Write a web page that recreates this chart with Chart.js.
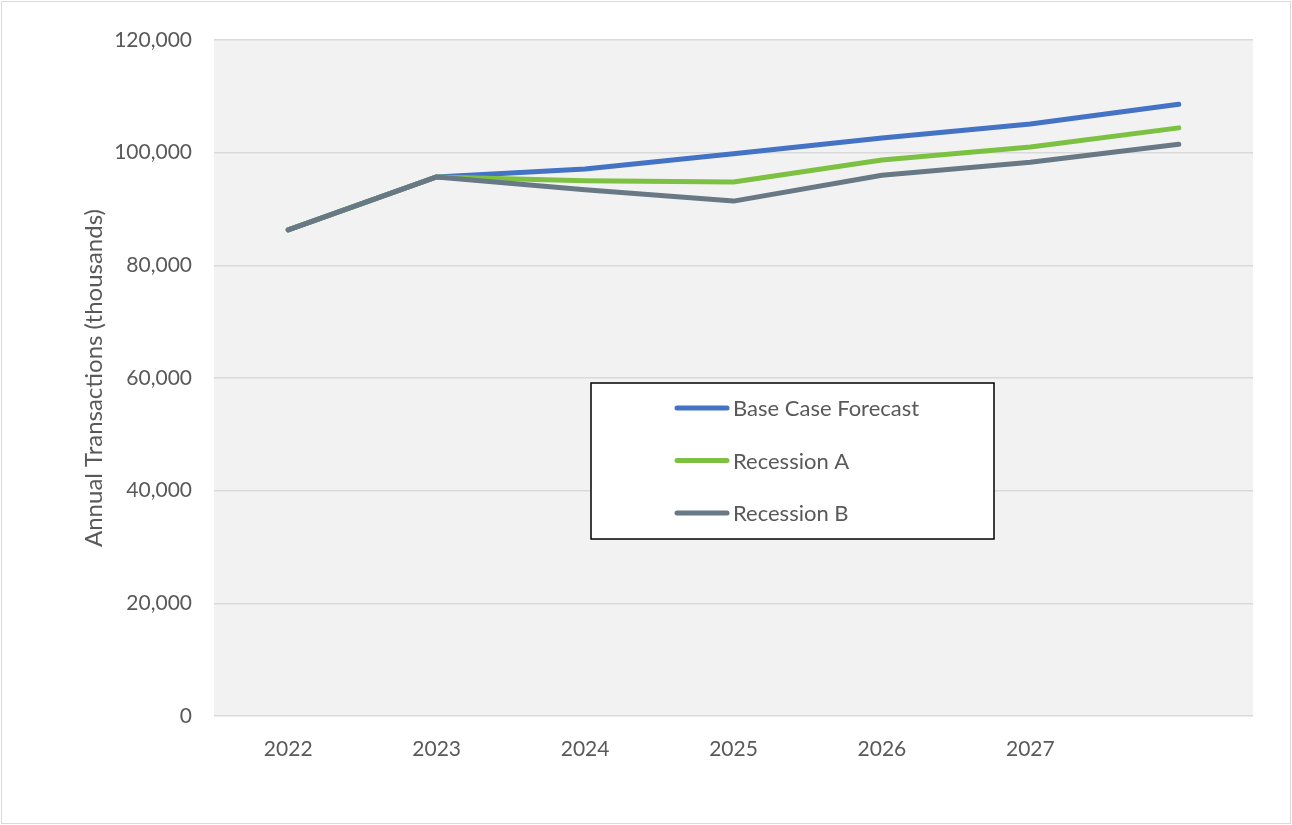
<!DOCTYPE html>
<html>
<head>
<meta charset="utf-8">
<script src="https://cdn.jsdelivr.net/npm/chart.js@4"></script>
<style>
  html, body { margin: 0; padding: 0; background: #fff; }
  #wrap { position: relative; width: 1292px; height: 825px; }
</style>
</head>
<body>
<div id="wrap"><canvas id="stage" width="1292" height="825"></canvas></div>
<script>
// values (thousands of transactions)
const years = ['2022', '2023', '2024', '2025', '2026', '2027', '2028'];
const yearLabels = ['2022', '2023', '2024', '2025', '2026', '2027', ''];
const baseCase = [86300, 95700, 97100, 99800, 102600, 105100, 108600];
const recessionA = [86300, 95700, 95000, 94800, 98700, 101000, 104400];
const recessionB = [86300, 95700, 93400, 91400, 96000, 98300, 101500];
const seriesNames = ['Base Case Forecast', 'Recession A', 'Recession B'];
const seriesColors = ['#4472C4', '#7CC142', '#687985'];

const FONT = 'Lato';
const TEXT = '#595959';

// grey plot area + thin frame round the whole picture
const backdrop = {
  id: 'backdrop',
  beforeDraw(chart) {
    const c = chart.ctx, a = chart.chartArea;
    c.save();
    c.fillStyle = '#F2F2F2';
    c.fillRect(a.left, a.top, a.right - a.left, a.bottom - a.top);
    c.strokeStyle = '#D9D9D9';
    c.lineWidth = 1;
    c.strokeRect(1.5, 1.5, 1289, 822);
    c.restore();
  }
};

// boxed legend sitting inside the plot
const boxLegend = {
  id: 'boxLegend',
  afterDraw(chart) {
    const c = chart.ctx, a = chart.chartArea;
    const x = a.left + 377, y = a.top + 343, w = 403, h = 156;
    c.save();
    c.fillStyle = '#fff';
    c.fillRect(x, y, w, h);
    c.strokeStyle = '#000';
    c.lineWidth = 1.5;
    c.strokeRect(x, y, w, h);
    c.font = '22px ' + FONT;
    c.textBaseline = 'middle';
    c.lineCap = 'round';
    [0, 1, 2].forEach((i, k) => {
      const ly = y + 25 + k * 52.5;
      c.strokeStyle = seriesColors[i];
      c.lineWidth = 5;
      c.beginPath();
      c.moveTo(x + 86, ly);
      c.lineTo(x + 136, ly);
      c.stroke();
      c.fillStyle = TEXT;
      c.fillText(chart.data.datasets[i].label, x + 142, ly + 1);
    });
    c.restore();
  }
};

function mkSet(i, data, order) {
  return {
    label: seriesNames[i],
    data: data,
    borderColor: seriesColors[i],
    backgroundColor: seriesColors[i],
    borderWidth: 5,
    borderCapStyle: 'round',
    borderJoinStyle: 'round',
    pointRadius: 0,
    tension: 0,
    order: order
  };
}

function draw() {
  new Chart(document.getElementById('stage'), {
    type: 'line',
    data: {
      labels: years,
      datasets: [
        mkSet(0, baseCase, 3),
        mkSet(1, recessionA, 2),
        mkSet(2, recessionB, 1)
      ]
    },
    options: {
      responsive: false,
      animation: false,
      devicePixelRatio: 1,
      layout: { padding: { top: 40, right: 39, left: 0, bottom: 0 } },
      plugins: {
        legend: { display: false },
        tooltip: { enabled: false }
      },
      scales: {
        x: {
          offset: true,
          grid: { display: false },
          border: { display: false },
          ticks: {
            color: TEXT,
            font: { family: FONT, size: 21 },
            padding: 13,
            maxRotation: 0,
            autoSkip: false,
            callback: (v, i) => yearLabels[i]
          },
          afterFit(s) { s.height = 109; }
        },
        y: {
          min: 0,
          max: 120000,
          grid: { color: '#D9D9D9', lineWidth: 1.5, drawTicks: false },
          border: { display: false },
          ticks: {
            stepSize: 20000,
            color: TEXT,
            font: { family: FONT, size: 21 },
            padding: 22,
            callback: v => v.toLocaleString('en-US')
          },
          title: {
            display: true,
            text: 'Annual Transactions (thousands)',
            color: TEXT,
            font: { family: FONT, size: 24 },
            padding: { top: 80, bottom: 0 }
          },
          afterFit(s) { s.width = 214; }
        }
      }
    },
    plugins: [backdrop, boxLegend]
  });
}

Promise.all([document.fonts.load('21px Lato'), document.fonts.load('24px Lato')])
  .then(draw, draw);
</script>
</body>
</html>
